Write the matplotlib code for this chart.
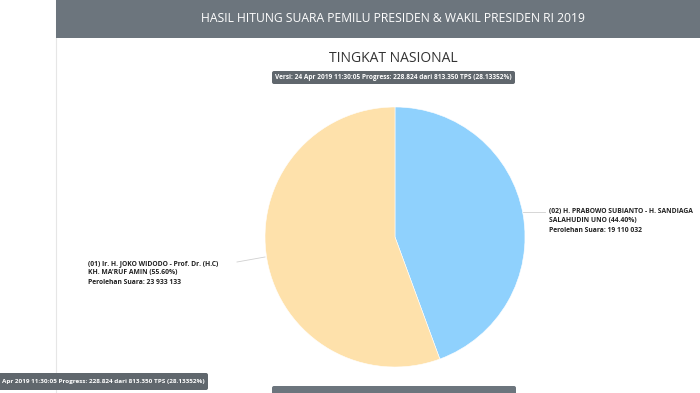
import matplotlib
matplotlib.use("Agg")
import matplotlib.pyplot as plt
from matplotlib.patches import Rectangle, FancyBboxPatch

plt.rcParams['font.family'] = ['Open Sans', 'DejaVu Sans']

W, H = 700, 393

header_title = "HASIL HITUNG SUARA PEMILU PRESIDEN & WAKIL PRESIDEN RI 2019"
sub_title = "TINGKAT NASIONAL"
version_text = "Versi: 24 Apr 2019 11:30:05 Progress: 228.824 dari 813.350 TPS (28.13352%)"
version_cut = "Apr 2019 11:30:05 Progress: 228.824 dari 813.350 TPS (28.13352%)"

candidates = ["(02) H. PRABOWO SUBIANTO - H. SANDIAGA\nSALAHUDIN UNO",
              "(01) Ir. H. JOKO WIDODO - Prof. Dr. (H.C)\nKH. MA'RUF AMIN"]
votes = [19110032, 23933133]
shares = [44.40, 55.60]
colors = ["#8fd1fd", "#fee1ab"]

gray = "#6c757d"

fig = plt.figure(figsize=(7, 3.93), dpi=100)
ax = fig.add_axes([0, 0, 1, 1])


def py(y):
    # pixel row (from top) -> axis y
    return H - y


# left margin rule and header bar
ax.plot([55.5, 55.5], [0, H], color="#e6e6e6", lw=0.8, zorder=0)
ax.add_patch(Rectangle((56, py(38)), W - 56, 38, color=gray, lw=0))
ax.text(393, py(18), header_title, color="white", fontsize=8.7,
        ha="center", va="center")

ax.text(393, py(58), sub_title, color="#333333", fontsize=10,
        ha="center", va="center")

# version badge
ax.add_patch(FancyBboxPatch((272, py(84)), 243, 13,
                            boxstyle="round,pad=0,rounding_size=2",
                            color="#60676d", lw=0))
ax.text(393.5, py(77.5), version_text, color="white", fontsize=4.7,
        fontweight="bold", ha="center", va="center", fontstretch="condensed")

# pie
cx, cy, r = 395, py(237), 130
ax.pie(votes, colors=colors, startangle=90, counterclock=False,
       center=(cx, cy), radius=r, frame=True,
       wedgeprops=dict(linewidth=0.4, edgecolor="white"))

# labels with leader lines
label_pos = [(549, 212), (88, 264)]
lines = [([523, 545], [212, 212]), ([265, 237], [257, 262])]
for (x, y), (lx, ly), name, v, s in zip(label_pos, lines, candidates, votes, shares):
    ax.plot(lx, [py(t) for t in ly], color="#d0d0d0", lw=0.6)
    vs = f"{v:,}".replace(",", " ")
    txt = f"{name} ({s:.2f}%)\nPerolehan Suara: {vs}"
    ax.text(x, py(y) + 4, txt, fontsize=4.9, fontweight="bold", color="#222222",
            ha="left", va="top", linespacing=1.45)

# bottom-left badge (cut off at the edge in the source)
ax.add_patch(FancyBboxPatch((-20, py(390)), 228, 17,
                            boxstyle="round,pad=0,rounding_size=2",
                            color="#60676d", lw=0, zorder=3))
ax.text(2, py(381.5), version_cut, color="white", fontsize=4.6,
        fontweight="bold", ha="left", va="center", fontstretch="condensed",
        zorder=4)

# bottom bar
ax.add_patch(FancyBboxPatch((272, py(400)), 244, 14,
                            boxstyle="round,pad=0,rounding_size=2",
                            color=gray, lw=0))

ax.set_xlim(0, W)
ax.set_ylim(0, H)
ax.set_aspect("auto")
ax.axis("off")

fig.savefig("out.png", dpi=100, facecolor="white")
